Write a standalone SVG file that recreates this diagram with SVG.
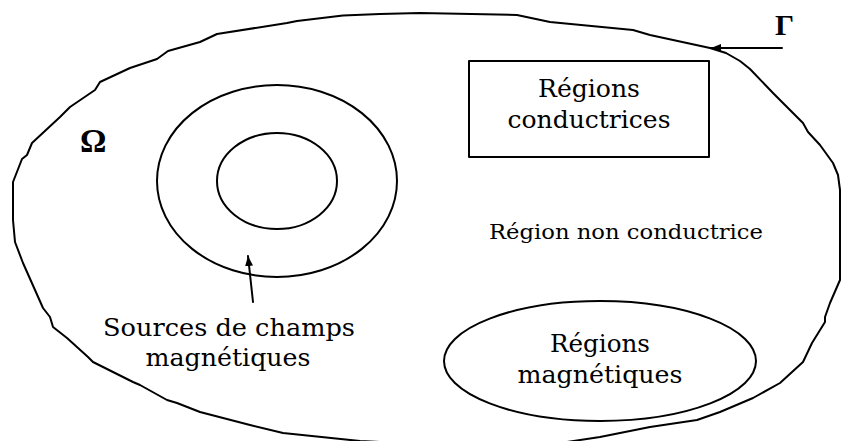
<svg xmlns="http://www.w3.org/2000/svg" width="841" height="441" viewBox="0 0 841 441">
<style>
.ln{fill:none;stroke:#000;stroke-width:2;stroke-linejoin:round;stroke-linecap:round}
.t{font-family:"DejaVu Serif","Liberation Serif",serif;fill:#000;text-anchor:middle;font-size:24px}
.sym{font-family:"Liberation Serif","DejaVu Serif",serif;font-weight:bold;fill:#000}
</style>
<defs>
<marker id="ah" markerWidth="10" markerHeight="8" refX="10" refY="4" orient="auto" markerUnits="userSpaceOnUse">
<path d="M0,0 L10,4 L0,8 Z" fill="#000"/>
</marker>
</defs>
<rect width="841" height="441" fill="#fff"/>
<g id="domain">
<polyline class="ln" points="420,13 517,15 550,22 633,30 650,35 710,48 726,53 740,61 750,69 773,93 803,123 808,132 820,145 833,163 838,175 840,190 840,280 830,303 825,317 825,322 812,343 803,362 780,383 753,398 720,412 697,420 650,427 600,437 567,442 460,446 360,441 283,433 250,425 200,412 177,403 167,400 140,385 133,382 93,362 88,357 67,338 53,327 50,317 43,308 23,263 15,242 13,220 13,182 22,159 27,155 32,143 60,117 70,107 95,90 100,82 130,68 157,59 168,51 200,42 217,34 287,23 297,21 343,15.5 380,14 420,13"/>
<text class="sym" x="80" y="152" font-size="33">Ω</text>
<text class="sym" x="775" y="35" font-size="30">Γ</text>
</g>
<g id="sources">
<ellipse class="ln" cx="277" cy="181" rx="120" ry="96"/>
<ellipse class="ln" cx="277" cy="181" rx="60" ry="48"/>
<text class="t" x="229" y="336" textLength="252" lengthAdjust="spacingAndGlyphs">Sources de champs</text>
<text class="t" x="228" y="366" textLength="165" lengthAdjust="spacingAndGlyphs">magnétiques</text>
</g>
<g id="conductrices">
<rect class="ln" x="469" y="61" width="240" height="96"/>
<text class="t" x="589" y="97" textLength="102" lengthAdjust="spacingAndGlyphs">Régions</text>
<text class="t" x="589" y="128" textLength="163" lengthAdjust="spacingAndGlyphs">conductrices</text>
</g>
<g id="non-conductrice">
<text class="t" x="626" y="239" style="font-size:20px" textLength="274" lengthAdjust="spacingAndGlyphs">Région non conductrice</text>
</g>
<g id="magnetiques">
<ellipse class="ln" cx="600" cy="361" rx="156" ry="60"/>
<text class="t" x="600" y="352" textLength="100" lengthAdjust="spacingAndGlyphs">Régions</text>
<text class="t" x="600" y="383" textLength="165" lengthAdjust="spacingAndGlyphs">magnétiques</text>
</g>
<g id="connectors">
<line class="ln" x1="253" y1="302" x2="248" y2="256" stroke-width="1.8" marker-end="url(#ah)"/>
<line class="ln" x1="782" y1="48" x2="711" y2="48" stroke-width="1.8" marker-end="url(#ah)"/>
</g>
</svg>
